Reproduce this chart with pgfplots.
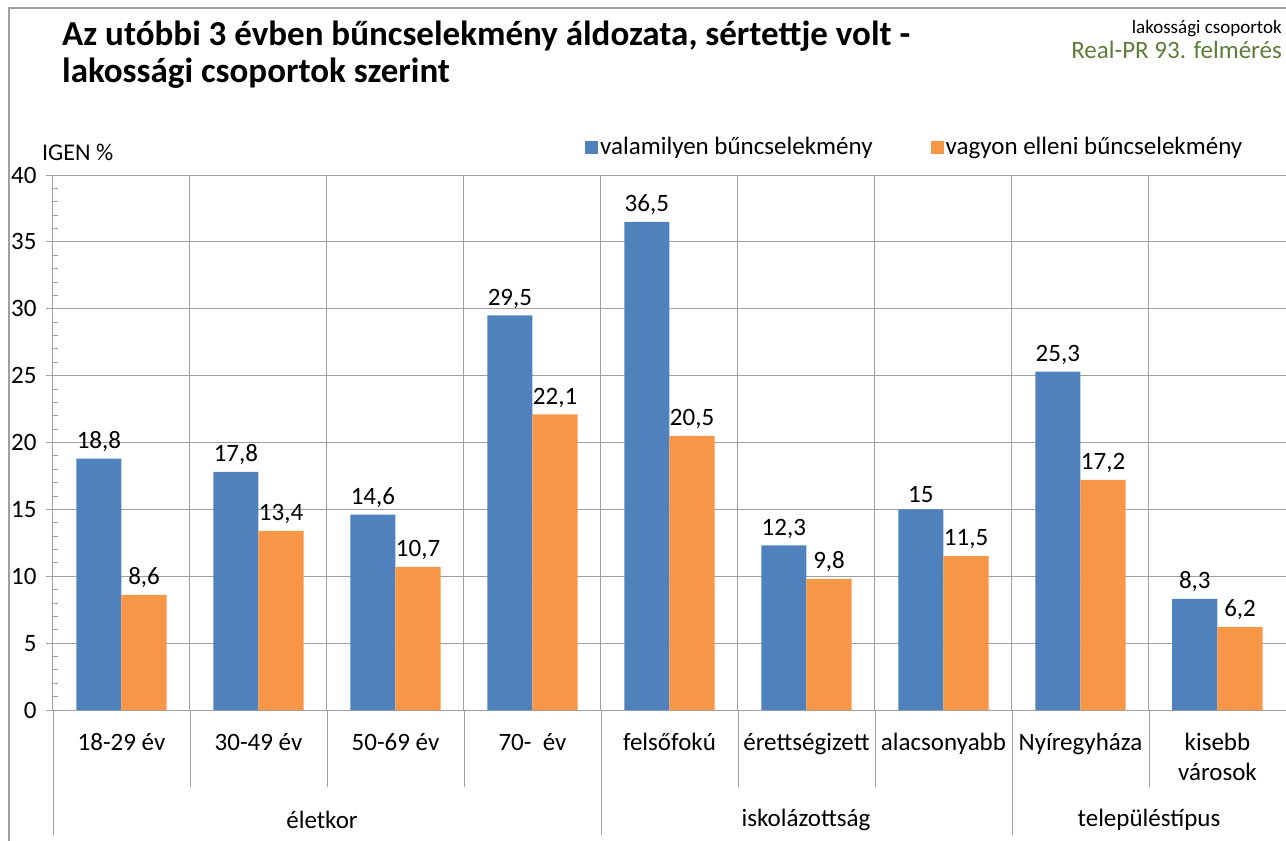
\documentclass[border=0pt]{standalone}
\usepackage{fontspec}
\setmainfont{Carlito}
\usepackage{pgfplots}
\pgfplotsset{compat=1.18}
\definecolor{cblue}{RGB}{79,129,189}
\definecolor{corange}{RGB}{247,150,70}
\definecolor{cgrid}{RGB}{160,160,160}
\definecolor{cgreen}{RGB}{94,124,56}
\begin{document}
\begin{tikzpicture}
\useasboundingbox (0pt,0pt) rectangle (1286pt,-841pt);
\draw[cgrid, line width=1.5pt] (9pt,-841pt) -- (9pt,-8pt) -- (1286pt,-8pt);
\node[anchor=base west, inner sep=0pt, font=\fontsize{35}{36}\selectfont\bfseries] at (62pt,-45pt) {Az utóbbi 3 évben bűncselekmény áldozata, sértettje volt -};
\node[anchor=base west, inner sep=0pt, font=\fontsize{35}{36}\selectfont\bfseries] at (62pt,-82pt) {lakossági csoportok szerint};
\node[anchor=base east, inner sep=0pt, font=\fontsize{19}{22}\selectfont] at (1282pt,-33pt) {lakossági csoportok};
\node[anchor=base east, inner sep=0pt, font=\fontsize{25}{28}\selectfont, text=cgreen] at (1282pt,-58pt) {Real-PR 93. felmérés};
\node[anchor=west, inner sep=0pt, font=\fontsize{24}{28}\selectfont] at (42pt,-152pt) {IGEN \%};
\begin{axis}[
  at={(53pt,-710pt)}, anchor=south west,
  scale only axis, width=1233pt, height=535pt,
  ybar=0pt, bar width=0.33,
  xmin=-0.5, xmax=8.5, ymin=0, ymax=40,
  axis x line*=bottom, axis y line*=left,
  axis line style={cgrid, line width=1pt},
  xtick={0,...,8},
  xticklabels={18-29 év,30-49 év,50-69 év,70-\ \ év,felsőfokú,érettségizett,alacsonyabb,Nyíregyháza,{kisebb\\városok}},
  xticklabel style={font=\fontsize{25}{30}\selectfont, align=center, anchor=north, yshift=-13pt},
  x tick style={draw=none},
  minor xtick={0.5,1.5,...,7.5},
  xminorgrids=true,
  minor grid style={cgrid, line width=1pt},
  ytick={0,5,...,40},
  minor y tick num=4,
  ymajorgrids=true,
  major grid style={cgrid, line width=1pt},
  tick align=outside,
  major tick length=7pt, minor tick length=5pt,
  y tick style={cgrid, line width=1pt},
  minor y tick style={xshift=5pt},
  yticklabel style={font=\fontsize{25}{28}\selectfont, xshift=-6pt},
  /pgf/number format/assume math mode=true,
  /pgf/number format/use comma,
  /pgf/number format/1000 sep={},
  nodes near coords,
  nodes near coords style={font=\fontsize{25}{28}\selectfont, text=black, anchor=south, inner sep=0pt, yshift=7pt},
  clip=false,
  legend columns=2,
  legend style={draw=none, fill=none, at={(0.4315,1.0523)}, anchor=west, inner sep=0pt,
    font=\fontsize{25}{28}\selectfont,
    /tikz/every even column/.append style={column sep=56pt}},
  legend image code/.code={\fill[#1] (0pt,-6.5pt) rectangle (13pt,6.5pt);},
]
\addplot[fill=cblue, draw=none] coordinates {(0,18.8) (1,17.8) (2,14.6) (3,29.5) (4,36.5) (5,12.3) (6,15) (7,25.3) (8,8.3)};
\addplot[fill=corange, draw=none] coordinates {(0,8.6) (1,13.4) (2,10.7) (3,22.1) (4,20.5) (5,9.8) (6,11.5) (7,17.2) (8,6.2)};
\legend{valamilyen bűncselekmény, vagyon elleni bűncselekmény}
\end{axis}
\foreach \xx in {190,327,464,738,875,1149}{\draw[cgrid, line width=1pt] (\xx pt,-710pt) -- (\xx pt,-787pt);}
\foreach \xx in {53,601,1012}{\draw[cgrid, line width=1pt] (\xx pt,-710pt) -- (\xx pt,-835pt);}
\node[font=\fontsize{25}{28}\selectfont] at (322pt,-820pt) {életkor};
\node[font=\fontsize{25}{28}\selectfont] at (806pt,-820pt) {iskolázottság};
\node[font=\fontsize{25}{28}\selectfont] at (1149pt,-820pt) {településtípus};
\end{tikzpicture}
\end{document}
